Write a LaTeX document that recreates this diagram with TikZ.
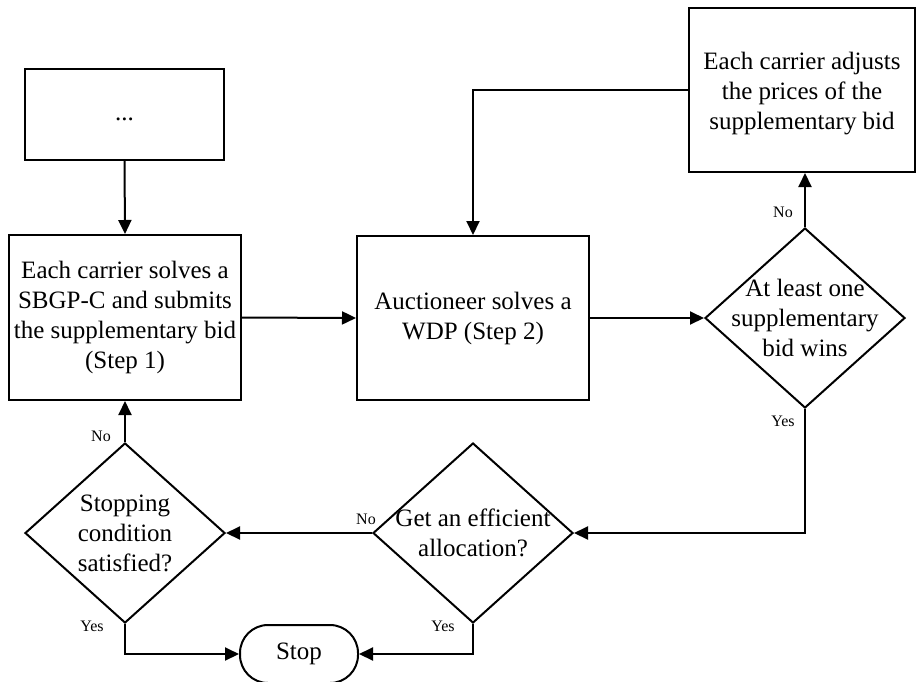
\documentclass[tikz,border=0pt]{standalone}
\usepackage{fontspec}
\setmainfont{Liberation Serif}
\usetikzlibrary{arrows.meta,shapes.geometric}
\begin{document}
\begin{tikzpicture}[x=1pt,y=-1pt,
  line width=2pt,
  box/.style={draw,rectangle,inner sep=0pt,align=center,font=\fontsize{25}{30}\selectfont},
  dia/.style={draw,diamond,inner sep=0pt,minimum width=200pt,minimum height=180pt,
     label={[align=center,font=\fontsize{25}{30}\selectfont]center:#1}},
  term/.style={draw,rectangle,rounded corners=28pt,inner sep=0pt,font=\fontsize{25}{30}\selectfont},
  lbl/.style={font=\fontsize{16}{18}\selectfont,inner sep=0pt},
  arr/.style={-{Triangle[length=14pt,width=13pt]},line width=2pt}
]
\useasboundingbox (0,0) rectangle (916,681);
\node[box,minimum width=199pt,minimum height=91pt] (dots) at (124.5,114.5) {\strut...};
\node[box,minimum width=232pt,minimum height=165pt] (s1) at (125,317.5)
  {Each carrier solves a\\SBGP-C and submits\\the supplementary bid\\(Step 1)};
\node[box,minimum width=232pt,minimum height=164pt] (wdp) at (473,318)
  {Auctioneer solves a\\WDP (Step 2)};
\node[box,minimum width=226pt,minimum height=164pt] (adj) at (802,90)
  {\rule{0pt}{24pt}Each carrier adjusts\\the prices of the\\supplementary bid};
\node[dia={At least one\\supplementary\\bid wins}] (win) at (805,318) {};
\node[dia={Get an efficient\\allocation?}] (eff) at (473,533) {};
\node[dia={Stopping\\condition\\satisfied?}] (stc) at (125,533) {};
\node[term,minimum width=118pt,minimum height=58pt] (stop) at (299,654) {Stop};

\draw[arr] (dots.south) -- (s1.north);
\draw[arr] (s1.east) -- (wdp.west);
\draw[arr] (wdp.east) -- (win.west);
\draw[arr] (win.north) -- node[lbl,at start,xshift=-22pt,yshift=15pt] {No} (win.north |- adj.south);
\draw[arr] (adj.west) -| (wdp.north);
\draw[arr] (win.south) |- node[lbl,at start,xshift=-22pt,yshift=-12pt] {Yes} (eff.east);
\draw[arr] (eff.west) -- node[lbl,at start,xshift=-6pt,yshift=14pt] {No} (stc.east);
\draw[arr] (eff.south) |- node[lbl,at start,xshift=-30pt,yshift=-2pt] {Yes} (stop.east);
\draw[arr] (stc.south) |- node[lbl,at start,xshift=-33pt,yshift=-2pt] {Yes} (stop.west);
\draw[arr] (stc.north) -- node[lbl,at start,xshift=-24pt,yshift=6pt] {No} (s1.south);
\end{tikzpicture}
\end{document}
